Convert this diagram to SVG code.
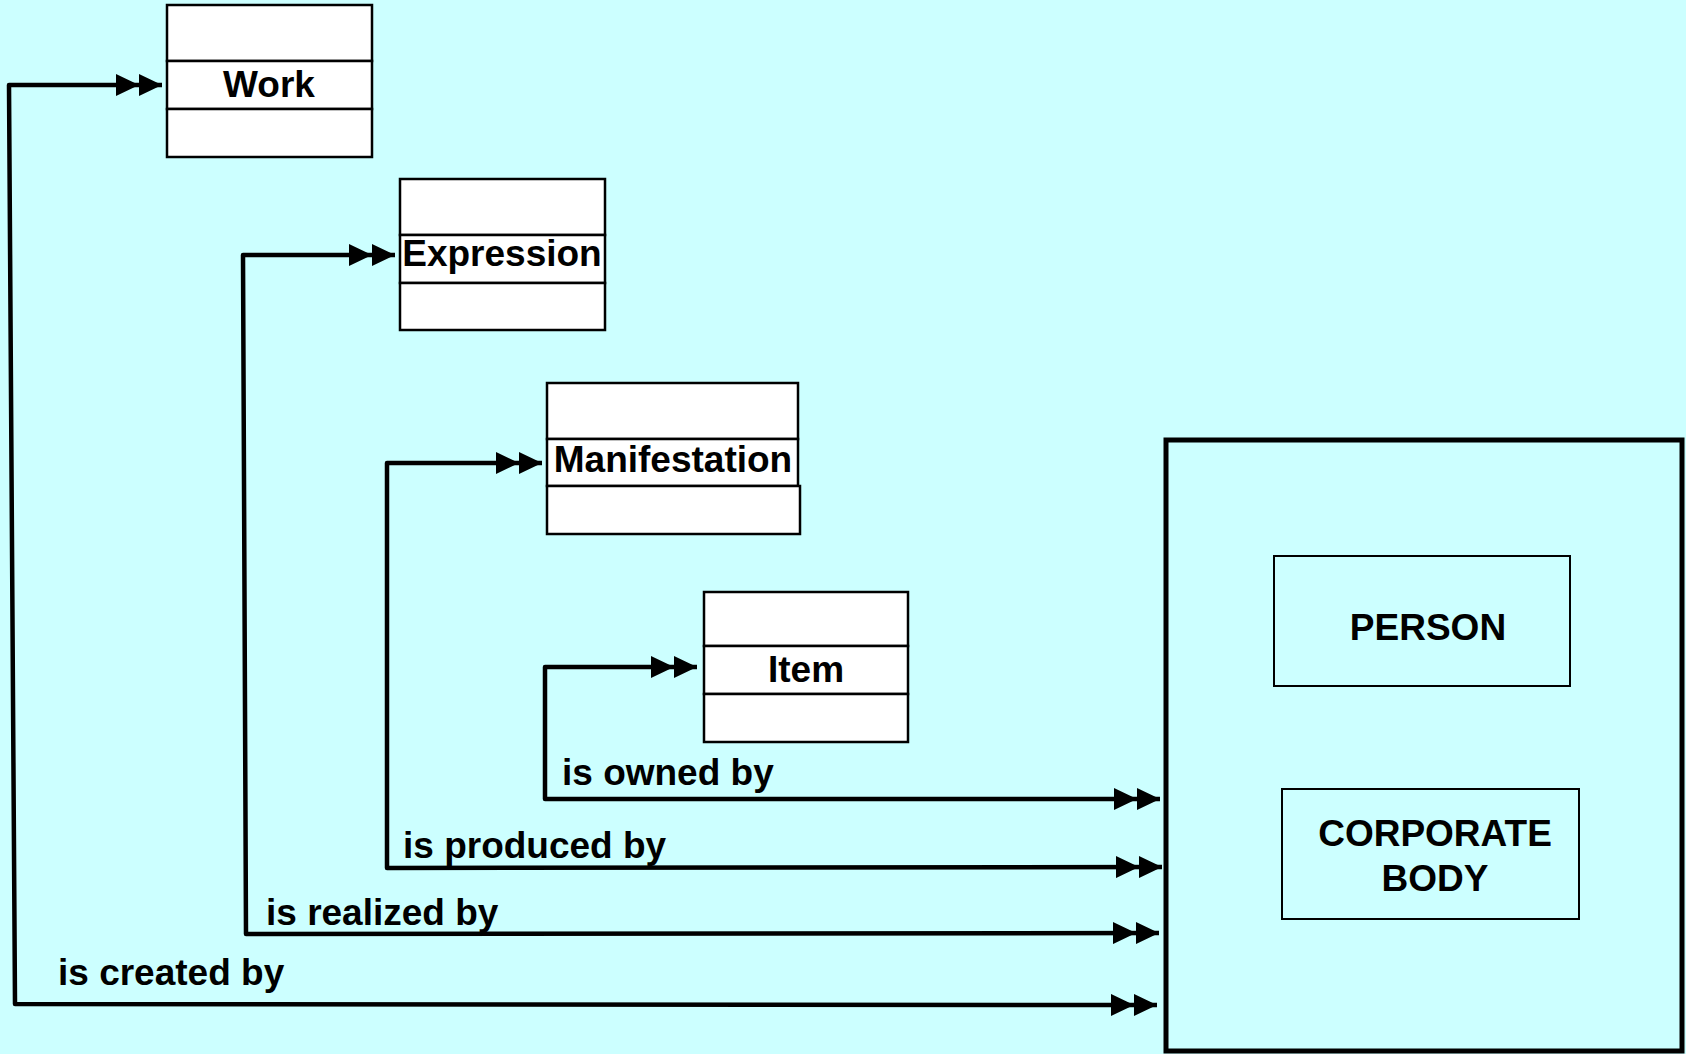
<svg xmlns="http://www.w3.org/2000/svg" width="1686" height="1054" viewBox="0 0 1686 1054">
<style>
text{font-family:"Liberation Sans",Arial,sans-serif;font-weight:bold;font-size:37px;fill:#000}
.ent rect{fill:#fff;stroke:#000;stroke-width:2.5}
.grp rect{fill:none;stroke:#000;stroke-width:2}
.conn path{fill:none;stroke:#000;stroke-width:4.5;stroke-linejoin:round}
.mid{text-anchor:middle}
</style>
<defs>
<marker id="dbl" viewBox="0 0 46 22" refX="46" refY="11" markerWidth="46" markerHeight="22" markerUnits="userSpaceOnUse" orient="auto-start-reverse">
<path d="M0,0 L23,11 L0,22 Z M23,0 L46,11 L23,22 Z" fill="#000"/>
</marker>
</defs>
<rect x="0" y="0" width="1686" height="1054" fill="#CCFFFF"/>

<g id="work" class="ent">
<rect x="167" y="5" width="205" height="56"/>
<rect x="167" y="61" width="205" height="48"/>
<rect x="167" y="109" width="205" height="48"/>
<text class="mid" x="269" y="97">Work</text>
</g>

<g id="expression" class="ent">
<rect x="400" y="179" width="205" height="56"/>
<rect x="400" y="235" width="205" height="48"/>
<rect x="400" y="283" width="205" height="47"/>
<text class="mid" x="502" y="266">Expression</text>
</g>

<g id="manifestation" class="ent">
<rect x="547" y="383" width="251" height="56"/>
<rect x="547" y="439" width="251" height="47"/>
<rect x="547" y="486" width="253" height="48"/>
<text class="mid" x="673" y="472">Manifestation</text>
</g>

<g id="item" class="ent">
<rect x="704" y="592" width="204" height="54"/>
<rect x="704" y="646" width="204" height="48"/>
<rect x="704" y="694" width="204" height="48"/>
<text class="mid" x="806" y="682">Item</text>
</g>

<g id="group1">
<rect x="1166" y="440" width="516" height="611" fill="none" stroke="#000" stroke-width="5"/>
</g>

<g id="person" class="grp">
<rect x="1274" y="556" width="296" height="130"/>
<text class="mid" x="1428" y="640">PERSON</text>
</g>

<g id="corporate" class="grp">
<rect x="1282" y="789" width="297" height="130"/>
<text class="mid" x="1435" y="846">CORPORATE</text>
<text class="mid" x="1435" y="891">BODY</text>
</g>

<g id="connectors" class="conn">
<path d="M162,85 L9,85 L15,1004 L1157,1005" marker-start="url(#dbl)" marker-end="url(#dbl)"/>
<path d="M395,255 L243,255 L246,934 L1159,933" marker-start="url(#dbl)" marker-end="url(#dbl)"/>
<path d="M542,463 L387,463 L387,868 L1162,867" marker-start="url(#dbl)" marker-end="url(#dbl)"/>
<path d="M697,667 L545,667 L545,799 L1160,799" marker-start="url(#dbl)" marker-end="url(#dbl)"/>
</g>

<g id="labels">
<text x="562" y="785">is owned by</text>
<text x="403" y="858">is produced by</text>
<text x="266" y="925">is realized by</text>
<text x="58" y="985">is created by</text>
</g>
</svg>
